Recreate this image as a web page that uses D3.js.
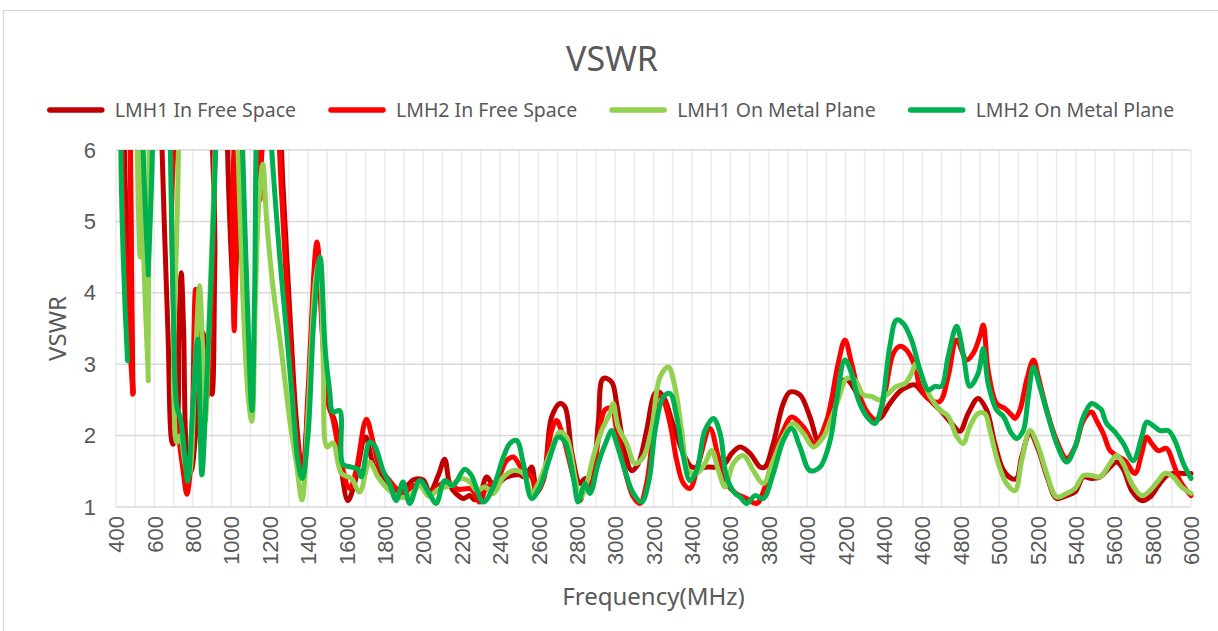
<!DOCTYPE html>
<html>
<head>
<meta charset="utf-8">
<script src="https://cdn.jsdelivr.net/npm/d3@7"></script>
<style>
  html, body { margin: 0; padding: 0; background: #ffffff; }
  svg { display: block; font-family: "Noto Sans", "DejaVu Sans", sans-serif; }
</style>
</head>
<body>
<div id="chart"></div>
<script>
// Measured VSWR curves, [frequency MHz, VSWR]. Values above 6 run off the top of the plot.
const lmh1FreeSpace = [[470,8],[490,2.6],[505,8],[620,8],[640,6],[670,3.5],[696,1.88],[715,2.0],[728,3.5],[740,4.28],[752,3.5],[770,1.7],[790,1.5],[820,2.2],[850,3.45],[880,3.0],[900,2.58],[915,4.5],[935,8],[1000,8],[1016,3.6],[1030,8],[1130,8],[1150,5.4],[1165,8],[1240,7],[1270,5.5],[1310,3.5],[1340,2.2],[1370,1.5],[1400,2.4],[1447,4.65],[1480,3.2],[1510,2.4],[1540,2.2],[1570,1.6],[1608,1.09],[1640,1.3],[1700,1.98],[1740,1.6],[1790,1.4],[1840,1.25],[1880,1.2],[1950,1.38],[2000,1.38],[2034,1.21],[2080,1.45],[2112,1.67],[2140,1.3],[2170,1.19],[2210,1.12],[2242,1.16],[2270,1.1],[2300,1.2],[2331,1.42],[2370,1.3],[2435,1.42],[2500,1.45],[2530,1.42],[2565,1.56],[2590,1.3],[2625,1.4],[2669,2.26],[2713,2.45],[2739,2.4],[2775,1.75],[2817,1.33],[2845,1.4],[2875,1.33],[2912,2.17],[2938,2.8],[2982,2.75],[3008,2.45],[3043,1.89],[3086,1.51],[3121,1.61],[3164,2.07],[3207,2.59],[3230,2.61],[3260,2.5],[3295,2.21],[3330,1.93],[3364,1.7],[3399,1.56],[3486,1.56],[3540,1.56],[3573,1.61],[3607,1.75],[3651,1.84],[3703,1.75],[3755,1.56],[3781,1.56],[3824,1.89],[3876,2.45],[3911,2.61],[3963,2.57],[4015,2.26],[4059,1.93],[4102,2.17],[4154,2.7],[4206,2.78],[4249,2.64],[4293,2.38],[4336,2.22],[4379,2.24],[4431,2.45],[4483,2.62],[4527,2.69],[4562,2.71],[4605,2.59],[4657,2.45],[4709,2.31],[4753,2.17],[4796,2.06],[4839,2.31],[4891,2.52],[4935,2.36],[4978,1.89],[5022,1.52],[5065,1.4],[5091,1.4],[5118,1.7],[5161,2.03],[5205,1.8],[5248,1.44],[5300,1.12],[5352,1.16],[5396,1.21],[5439,1.42],[5482,1.4],[5526,1.42],[5578,1.56],[5613,1.63],[5647,1.53],[5691,1.23],[5743,1.09],[5786,1.14],[5830,1.3],[5873,1.44],[5908,1.47],[5960,1.47],[6000,1.47]];

const lmh2FreeSpace = [[470,8],[487,2.58],[500,8],[670,8],[690,5],[720,2.2],[750,1.5],[769,1.18],[790,1.6],[815,4.05],[840,3.0],[870,2.5],[900,4.0],[920,6.5],[940,8],[995,8],[1005,5],[1016,3.47],[1028,6],[1045,8],[1130,8],[1150,5.3],[1165,8],[1230,7],[1260,5.5],[1300,3.6],[1340,2.0],[1374,1.48],[1400,2.6],[1447,4.71],[1480,3.3],[1510,2.5],[1540,2.1],[1575,1.6],[1617,1.26],[1650,1.5],[1704,2.23],[1740,1.9],[1773,1.56],[1825,1.37],[1860,1.26],[1900,1.2],[1950,1.3],[2000,1.3],[2040,1.2],[2080,1.3],[2130,1.35],[2180,1.25],[2250,1.25],[2294,1.07],[2331,1.28],[2380,1.35],[2435,1.65],[2470,1.7],[2520,1.51],[2565,1.42],[2590,1.2],[2626,1.37],[2669,2.07],[2695,2.21],[2720,2.07],[2782,1.42],[2817,1.09],[2845,1.3],[2869,1.25],[2912,1.93],[2947,2.36],[2982,2.38],[3008,2.07],[3060,1.42],[3095,1.14],[3130,1.05],[3164,1.33],[3199,2.07],[3225,2.57],[3251,2.5],[3286,2.17],[3321,1.65],[3356,1.33],[3390,1.26],[3434,1.61],[3494,2.1],[3538,1.7],[3581,1.33],[3630,1.19],[3685,1.12],[3738,1.05],[3781,1.28],[3824,1.7],[3876,2.07],[3920,2.26],[3981,2.12],[4041,1.89],[4102,2.21],[4162,3.01],[4197,3.34],[4232,3.01],[4275,2.55],[4319,2.31],[4362,2.22],[4405,2.59],[4449,3.15],[4483,3.25],[4518,3.2],[4562,2.97],[4588,2.69],[4640,2.5],[4692,2.48],[4735,2.83],[4779,3.34],[4831,3.06],[4865,3.15],[4900,3.39],[4918,3.55],[4943,2.92],[4987,2.45],[5030,2.38],[5065,2.29],[5083,2.24],[5109,2.36],[5144,2.78],[5179,3.06],[5205,2.82],[5248,2.36],[5300,1.93],[5352,1.68],[5396,1.84],[5439,2.21],[5482,2.33],[5508,2.21],[5543,2.03],[5578,1.79],[5613,1.72],[5656,1.65],[5708,1.47],[5743,1.75],[5769,1.98],[5795,1.89],[5830,1.79],[5873,1.82],[5908,1.61],[5942,1.37],[5977,1.23],[6000,1.16]];

const lmh1MetalPlane = [[500,8],[525,4.5],[545,8],[552,8],[568,2.77],[585,8],[670,8],[700,2.6],[717,1.9],[735,2.0],[760,1.6],[780,1.45],[810,2.8],[835,4.1],[850,3.3],[865,2.2],[890,4.0],[920,6.3],[935,8],[1010,8],[1030,6.5],[1060,4.0],[1090,2.5],[1108,2.2],[1125,3.8],[1145,5.3],[1165,5.8],[1185,5.0],[1220,4.03],[1255,3.33],[1308,2.16],[1340,1.6],[1369,1.1],[1400,2.3],[1440,4.2],[1460,4.45],[1480,3.0],[1500,1.84],[1530,1.9],[1574,1.47],[1626,1.4],[1669,1.21],[1721,1.63],[1765,1.42],[1825,1.23],[1877,1.14],[1930,1.15],[1982,1.3],[2030,1.15],[2080,1.25],[2140,1.3],[2200,1.4],[2244,1.35],[2280,1.23],[2322,1.28],[2366,1.19],[2418,1.42],[2470,1.51],[2522,1.47],[2565,1.19],[2600,1.33],[2661,1.75],[2713,2.05],[2747,1.98],[2791,1.42],[2817,1.12],[2852,1.33],[2886,1.7],[2930,2.07],[2973,2.31],[2990,2.45],[3016,2.12],[3060,1.89],[3103,1.61],[3147,1.7],[3190,2.1],[3234,2.82],[3277,2.96],[3312,2.68],[3347,2.07],[3382,1.51],[3425,1.47],[3468,1.61],[3503,1.79],[3538,1.51],[3573,1.28],[3616,1.61],[3668,1.72],[3720,1.51],[3772,1.33],[3824,1.65],[3876,1.98],[3928,2.17],[3981,2.03],[4033,1.84],[4085,1.98],[4120,2.2],[4162,2.5],[4206,2.8],[4249,2.78],[4293,2.57],[4336,2.55],[4379,2.5],[4423,2.59],[4466,2.69],[4510,2.73],[4544,2.87],[4567,3.01],[4596,2.85],[4640,2.55],[4692,2.36],[4735,2.27],[4779,1.99],[4813,1.89],[4848,2.13],[4891,2.31],[4926,2.31],[4952,2.08],[4996,1.61],[5039,1.33],[5083,1.23],[5118,1.65],[5161,2.07],[5205,1.84],[5248,1.47],[5300,1.14],[5352,1.19],[5396,1.26],[5439,1.44],[5482,1.44],[5526,1.42],[5578,1.61],[5613,1.72],[5647,1.61],[5691,1.33],[5743,1.16],[5786,1.23],[5830,1.37],[5864,1.47],[5908,1.42],[5951,1.28],[6000,1.19]];

const lmh2MetalPlane = [[460,3.05],[475,8],[550,8],[568,4.25],[580,8],[665,8],[680,6.5],[700,3.5],[717,2.4],[735,2.25],[755,1.8],[774,1.36],[800,2.4],[826,3.35],[847,1.45],[870,2.6],[900,4.5],[925,6.5],[940,8],[1040,8],[1060,6],[1085,3.8],[1108,2.35],[1122,4],[1140,7],[1180,8],[1200,6.5],[1250,4.6],[1290,3.4],[1322,2.4],[1350,1.6],[1370,1.4],[1400,2.0],[1430,3.6],[1463,4.5],[1490,3.2],[1513,2.63],[1530,2.33],[1565,2.35],[1582,1.6],[1626,1.56],[1660,1.53],[1678,1.42],[1721,1.91],[1747,1.86],[1791,1.51],[1825,1.33],[1860,1.09],[1895,1.35],[1930,1.05],[1982,1.37],[2030,1.2],[2068,1.05],[2112,1.37],[2155,1.3],[2216,1.53],[2250,1.45],[2313,1.07],[2366,1.28],[2418,1.7],[2452,1.89],[2487,1.93],[2522,1.61],[2565,1.12],[2608,1.28],[2661,1.7],[2704,1.98],[2739,1.91],[2782,1.42],[2808,1.07],[2843,1.33],[2869,1.19],[2912,1.61],[2956,1.93],[2982,2.07],[3008,1.89],[3051,1.51],[3095,1.19],[3138,1.07],[3175,1.35],[3210,2.1],[3251,2.54],[3286,2.59],[3321,2.26],[3356,1.7],[3390,1.37],[3425,1.51],[3468,2.07],[3512,2.24],[3547,2.03],[3581,1.42],[3625,1.19],[3651,1.14],[3685,1.05],[3729,1.16],[3772,1.12],[3824,1.47],[3876,1.93],[3920,2.1],[3963,1.84],[4015,1.51],[4067,1.56],[4120,1.93],[4154,2.5],[4197,3.06],[4232,2.87],[4267,2.5],[4310,2.27],[4353,2.17],[4388,2.41],[4431,3.25],[4466,3.62],[4501,3.57],[4544,3.34],[4588,2.92],[4631,2.64],[4666,2.69],[4700,2.69],[4735,3.11],[4779,3.53],[4813,3.15],[4848,2.69],[4891,2.87],[4918,3.22],[4943,2.73],[4987,2.36],[5022,2.27],[5065,2.03],[5092,1.96],[5126,2.07],[5152,2.54],[5179,2.96],[5213,2.68],[5257,2.26],[5300,1.89],[5352,1.63],[5396,1.84],[5439,2.26],[5482,2.45],[5517,2.4],[5534,2.36],[5560,2.17],[5604,2.05],[5647,1.89],[5699,1.65],[5743,1.98],[5769,2.19],[5803,2.14],[5838,2.07],[5882,2.07],[5916,1.93],[5960,1.61],[6000,1.4]];

const seriesNames = ["LMH1 In Free Space", "LMH2 In Free Space", "LMH1 On Metal Plane", "LMH2 On Metal Plane"];
const seriesColors = ["#C00000", "#FF0000", "#92D050", "#00B050"];
const xTicks = d3.range(400, 6001, 200);
const xGrid = d3.range(400, 6001, 100);
const yTicks = [1, 2, 3, 4, 5, 6];

////////////////////////////////////////////////////////////////////////////////
const width = 1218, height = 631;
const margin = { left: 116, right: 27, top: 150, bottom: 124 };
const textColor = "#595959";

const svg = d3.select("#chart").append("svg")
    .attr("width", width)
    .attr("height", height);

// Chart frame
svg.append("rect")
    .attr("x", 3.5).attr("y", 10.5)
    .attr("width", 1230).attr("height", 640)
    .attr("fill", "#ffffff")
    .attr("stroke", "#D9D9D9")
    .attr("stroke-width", 1.3);

const x = d3.scaleLinear().domain([400, 6000]).range([margin.left, width - margin.right]);
const y = d3.scaleLinear().domain([1, 6]).range([height - margin.bottom, margin.top]);

/**
 * Draws the grid lines of the plot area.
 */
function drawGrid() {
    const grid = svg.append("g");
    grid.selectAll(".vgrid").data(xGrid).enter().append("line")
        .attr("x1", d => x(d)).attr("x2", d => x(d))
        .attr("y1", y(6)).attr("y2", y(1))
        .attr("stroke", "#EBEBEB")
        .attr("stroke-width", 1.5);
    grid.selectAll(".hgrid").data(yTicks).enter().append("line")
        .attr("x1", x(400)).attr("x2", x(6000))
        .attr("y1", d => y(d)).attr("y2", d => y(d))
        .attr("stroke", "#D9D9D9")
        .attr("stroke-width", 1.5);
}

/**
 * Draws tick labels using d3 axes, then strips the axis lines.
 */
function drawAxes() {
    const xAxis = svg.append("g")
        .attr("transform", `translate(0,${y(1)})`)
        .call(d3.axisBottom(x).tickValues(xTicks).tickSize(0).tickPadding(0).tickFormat(d3.format("d")));
    xAxis.select(".domain").remove();
    xAxis.selectAll("text")
        .attr("transform", "rotate(-90)")
        .attr("x", -9).attr("y", 0)
        .attr("dy", "0.35em")
        .style("text-anchor", "end")
        .attr("fill", textColor)
        .style("font-size", "22px")
        .style("font-family", "inherit");

    const yAxis = svg.append("g")
        .attr("transform", `translate(${x(400)},0)`)
        .call(d3.axisLeft(y).tickValues(yTicks).tickSize(0).tickPadding(20).tickFormat(d3.format("d")));
    yAxis.select(".domain").remove();
    yAxis.selectAll("text")
        .attr("fill", textColor)
        .style("font-size", "22px")
        .style("font-family", "inherit");
}

/**
 * Draws the four curves, clipped to the plot area.
 */
function drawSeries() {
    svg.append("clipPath").attr("id", "plotClip")
        .append("rect")
        .attr("x", x(400) - 3).attr("y", y(6))
        .attr("width", x(6000) - x(400) + 6)
        .attr("height", y(1) - y(6) + 4);

    const line = d3.line()
        .x(d => x(d[0]))
        .y(d => y(d[1]))
        .curve(d3.curveCatmullRom.alpha(0.5));

    const allSeries = [lmh1FreeSpace, lmh2FreeSpace, lmh1MetalPlane, lmh2MetalPlane];
    svg.append("g").attr("clip-path", "url(#plotClip)")
        .selectAll("path").data(allSeries).enter().append("path")
        .attr("d", d => line(d))
        .attr("fill", "none")
        .attr("stroke", (d, i) => seriesColors[i])
        .attr("stroke-width", 5)
        .attr("stroke-linejoin", "round")
        .attr("stroke-linecap", "round");
}

/**
 * Title, axis titles and legend.
 */
function drawLabels() {
    svg.append("text")
        .attr("x", 612).attr("y", 71)
        .attr("text-anchor", "middle")
        .attr("fill", textColor)
        .style("font-size", "34px")
        .text("VSWR");

    svg.append("text")
        .attr("transform", `translate(66,${(y(1) + y(6)) / 2}) rotate(-90)`)
        .attr("text-anchor", "middle")
        .attr("fill", textColor)
        .style("font-size", "24px")
        .text("VSWR");

    svg.append("text")
        .attr("x", (x(400) + x(6000)) / 2).attr("y", 605)
        .attr("text-anchor", "middle")
        .attr("fill", textColor)
        .style("font-size", "24px")
        .text("Frequency(MHz)");

    // Legend: measure texts and center the row on the chart
    const legend = svg.append("g");
    const items = legend.selectAll("g").data(seriesNames).enter().append("g");
    items.append("line")
        .attr("x1", 0).attr("x2", 52)
        .attr("y1", 0).attr("y2", 0)
        .attr("stroke", (d, i) => seriesColors[i])
        .attr("stroke-width", 5.5)
        .attr("stroke-linecap", "round");
    items.append("text")
        .attr("x", 65).attr("y", 0)
        .attr("dy", "0.35em")
        .attr("fill", textColor)
        .style("font-size", "19.5px")
        .text(d => d);

    let offset = 0;
    items.each(function () {
        const w = 65 + d3.select(this).select("text").node().getComputedTextLength();
        d3.select(this).attr("data-x", offset);
        offset += w + 35;
    });
    const total = offset - 35;
    const start = 612 - total / 2;
    items.attr("transform", function () {
        return `translate(${start + (+d3.select(this).attr("data-x"))},110)`;
    });
}

drawGrid();
drawAxes();
drawSeries();
drawLabels();
</script>
</body>
</html>
